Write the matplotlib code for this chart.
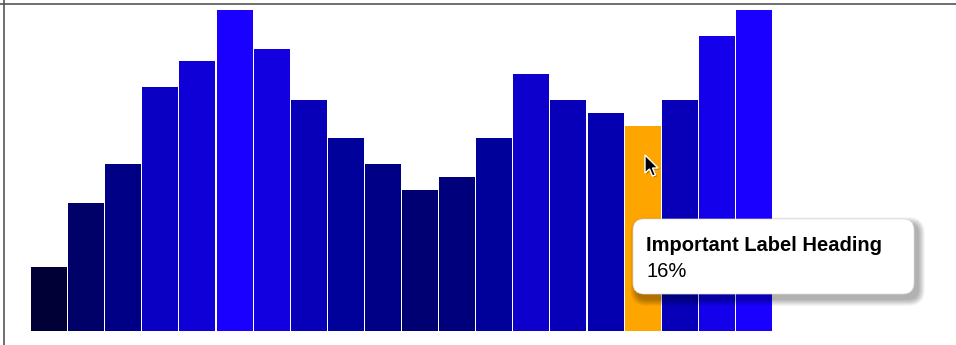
import numpy as np
import matplotlib.pyplot as plt
from matplotlib.patches import FancyBboxPatch, Polygon
from matplotlib.lines import Line2D

# Data
values = [5, 10, 13, 19, 21, 25, 22, 18, 15, 13, 11, 12, 15, 20, 18, 17, 16, 18, 23, 25]
highlight = 16
tip_title = 'Important Label Heading'
tip_value = '16%'

W, H = 956, 345
fig = plt.figure(figsize=(W / 100, H / 100), dpi=100)

def px(x, y):
    # pixel coords (origin top-left) -> figure fraction
    return x / W, 1 - y / H

# plot area
ax = fig.add_axes([31 / W, 14 / H, 742 / W, 321 / H])
x = np.arange(len(values))

def bar_color(v):
    b = min(255, v * 10 + 5) / 255
    r = max(0, (v - 15) * 2.5) / 255
    return (r, 0, b)

colors = [bar_color(v) for v in values]
colors[highlight] = '#ffa500'
ax.bar(x, values, width=0.972, color=colors, edgecolor='none', align='edge')
ax.set_xlim(0, len(values))
ax.set_ylim(0, max(values))
ax.axis('off')

# frame lines (top and left)
fig.add_artist(Line2D([0, 1], [1 - 3.5 / H] * 2, transform=fig.transFigure, color='#555555', lw=1.2))
fig.add_artist(Line2D([3.5 / W] * 2, [0, 1], transform=fig.transFigure, color='#555555', lw=1.2))

# tooltip with soft shadow
bx0, by0, bx1, by1 = 633, 219, 914, 294
for i in range(14, 0, -1):
    off = 4
    sh = FancyBboxPatch((bx0 + off - i / 2, H - by1 - off - i / 2 - 1),
                        (bx1 - bx0) + i, (by1 - by0) + i,
                        boxstyle='round,pad=0,rounding_size=%d' % (10 + i / 2),
                        transform=None, facecolor='black', edgecolor='none',
                        alpha=0.022)
    fig.add_artist(sh)
box = FancyBboxPatch((bx0, H - by1), bx1 - bx0, by1 - by0,
                     boxstyle='round,pad=0,rounding_size=11',
                     transform=None, facecolor='white', edgecolor='#dddddd', lw=0.5)
fig.add_artist(box)
fig.text(*px(646, 251), tip_title, fontsize=14.5, fontweight='bold',
         family='Liberation Sans', color='black', va='baseline')
fig.text(*px(646, 277), tip_value, fontsize=14.5,
         family='Liberation Sans', color='black', va='baseline')

# mouse cursor
tipx, tipy = 645, 155
shape = [(0, 0), (0, 18), (4.5, 14), (7.5, 21), (10.5, 20), (7.5, 13), (13, 13)]
pts = [(tipx + dx, H - (tipy + dy)) for dx, dy in shape]
fig.add_artist(Polygon([(p[0] + 1.5, p[1] - 1.5) for p in pts], closed=True, transform=None,
                       facecolor='black', edgecolor='none', alpha=0.25))
fig.add_artist(Polygon(pts, closed=True, transform=None, facecolor='black',
                       edgecolor='white', lw=1))

fig.savefig('out.png', dpi=100)
